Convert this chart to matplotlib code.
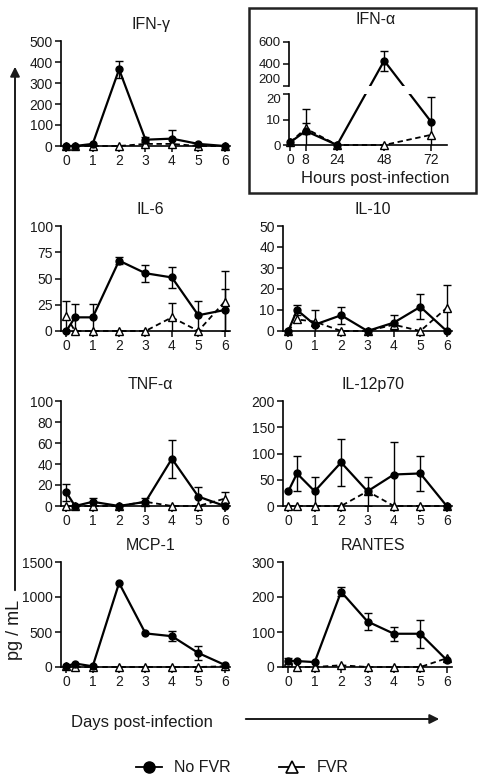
import numpy as np
import matplotlib
matplotlib.use("Agg")
import matplotlib.pyplot as plt
from matplotlib.lines import Line2D
from matplotlib.patches import Rectangle, FancyArrowPatch

plt.rcParams["font.family"] = ["Liberation Sans", "DejaVu Sans"]
plt.rcParams["text.color"] = "#1a1a1a"
plt.rcParams["xtick.color"] = "#1a1a1a"
plt.rcParams["ytick.color"] = "#1a1a1a"

W, H, DPI = 485, 784, 100

# ── data ──────────────────────────────────────────────────────────────────────
days = [0, 0.33, 1, 2, 3, 4, 5, 6]          # 8 h = 0.33 d
day_ticks = [0, 1, 2, 3, 4, 5, 6]

ifng_no      = [0, 0, 10, 365, 30, 35, 10, 0]
ifng_no_err  = [0, 0, 0, 40, 12, 40, 0, 0]
ifng_fvr     = [0, 0, 0, 0, 10, 10, 0, 0]
ifng_fvr_err = [0, 0, 0, 0, 0, 0, 0, 0]

il6_no       = [0, 13, 13, 67, 55, 51, 15, 20]
il6_no_err   = [0, 13, 13, 3.5, 8, 10, 14, 20]
il6_fvr      = [14, 0, 0, 0, 0, 13, 0, 28]
il6_fvr_err  = [15, 0, 0, 0, 0, 14, 0, 29]

il10_no      = [0, 10, 3, 7.5, 0, 4, 11.5, 0]
il10_no_err  = [0, 2.5, 7, 4, 0, 3.5, 6, 0]
il10_fvr     = [0, 5.5, 4.5, 0, 0, 3, 0, 11]
il10_fvr_err = [0, 0, 0, 0, 0, 0, 0, 11]

tnf_no       = [13, 0, 4, 0, 4, 45, 9, 0]
tnf_no_err   = [8, 0, 4, 0, 4, 18, 9, 0]
tnf_fvr      = [0, 0, 0, 0, 4, 0, 0, 7]
tnf_fvr_err  = [0, 0, 0, 0, 0, 0, 0, 6]

il12_no      = [28, 62, 28, 83, 28, 60, 62, 0]
il12_no_err  = [0, 33, 28, 45, 28, 62, 33, 0]
il12_fvr     = [0, 0, 0, 0, 28, 0, 0, 0]
il12_fvr_err = [0, 0, 0, 0, 0, 0, 0, 0]

mcp1_no      = [10, 50, 10, 1200, 480, 440, 200, 30]
mcp1_no_err  = [0, 0, 0, 0, 0, 70, 100, 0]
mcp1_fvr     = [10, 0, 0, 0, 0, 0, 0, 10]
mcp1_fvr_err = [0, 0, 0, 0, 0, 0, 0, 0]

rantes_no      = [18, 17, 14, 215, 130, 95, 95, 20]
rantes_no_err  = [8, 0, 0, 13, 25, 20, 40, 0]
rantes_fvr     = [15, 0, 0, 5, 0, 0, 0, 25]
rantes_fvr_err = [0, 0, 0, 0, 0, 0, 0, 0]

hours = [0, 8, 24, 48, 72]
hour_ticks = [0, 8, 24, 48, 72]
ifna_no      = [1, 5.5, 0, 430, 9]
ifna_no_err  = [0, 8.5, 0, 90, 10]
ifna_fvr     = [1, 6.5, 0, 0, 4]
ifna_fvr_err = [0, 2, 0, 0, 0]

# ── styles ────────────────────────────────────────────────────────────────────
NO_STYLE = dict(color="black", ls="-", lw=1.6, marker="o", ms=5,
                mfc="black", mec="black")
FVR_STYLE = dict(color="black", ls=(0, (3, 2)), lw=1.3, marker="^", ms=5.5,
                 mfc="white", mec="black", mew=1)


def fig_rect(left, top, width, height):
    return [left / W, 1 - (top + height) / H, width / W, height / H]


def style(ax):
    for s in ("top", "right"):
        ax.spines[s].set_visible(False)
    for s in ("left", "bottom"):
        ax.spines[s].set_linewidth(1.2)
    ax.tick_params(direction="out", length=4, width=1.2, labelsize=10, pad=2)


def errbars(ax, x, y, err):
    x, y, err = map(np.asarray, (x, y, err))
    m = err > 0
    if m.any():
        ax.errorbar(x[m], y[m], yerr=err[m], fmt="none", ecolor="black",
                    elinewidth=1, capsize=3, capthick=1, zorder=2)


def panel(ax, title, no, no_err, fvr, fvr_err, ymax, step):
    errbars(ax, days, fvr, fvr_err)
    errbars(ax, days, no, no_err)
    ax.plot(days, fvr, clip_on=False, zorder=3, **FVR_STYLE)
    ax.plot(days, no, clip_on=False, zorder=4, **NO_STYLE)
    ax.set_xlim(-0.2, 6.2)
    ax.set_ylim(0, ymax)
    ax.set_xticks(day_ticks)
    ax.set_yticks(np.arange(0, ymax + 1, step))
    ax.set_title(title, fontsize=11.5, pad=9, x=0.53)
    style(ax)


fig = plt.figure(figsize=(W / DPI, H / DPI), dpi=DPI)

tops = [41, 226, 401, 562]
LX, RX, PW, PH = 61, 283, 169, 105

panels = [
    (LX, tops[0], "IFN-\u03b3", ifng_no, ifng_no_err, ifng_fvr, ifng_fvr_err, 500, 100),
    (LX, tops[1], "IL-6", il6_no, il6_no_err, il6_fvr, il6_fvr_err, 100, 25),
    (RX, tops[1], "IL-10", il10_no, il10_no_err, il10_fvr, il10_fvr_err, 50, 10),
    (LX, tops[2], "TNF-\u03b1", tnf_no, tnf_no_err, tnf_fvr, tnf_fvr_err, 100, 20),
    (RX, tops[2], "IL-12p70", il12_no, il12_no_err, il12_fvr, il12_fvr_err, 200, 50),
    (LX, tops[3], "MCP-1", mcp1_no, mcp1_no_err, mcp1_fvr, mcp1_fvr_err, 1500, 500),
    (RX, tops[3], "RANTES", rantes_no, rantes_no_err, rantes_fvr, rantes_fvr_err, 300, 100),
]
for left, top, title, no, no_err, fvr, fvr_err, ymax, step in panels:
    ax = fig.add_axes(fig_rect(left, top, PW, PH))
    panel(ax, title, no, no_err, fvr, fvr_err, ymax, step)

# ── IFN-α with broken y axis ──────────────────────────────────────────────────
ax_up = fig.add_axes(fig_rect(289, 42, 158, 44))
ax_lo = fig.add_axes(fig_rect(289, 94, 158, 51))
for a in (ax_up, ax_lo):
    a.set_xlim(-0.5, 80)
ax_up.set_ylim(200, 600)
ax_lo.set_ylim(0, 20)
ax_up.set_yticks([200, 400, 600])
ax_lo.set_yticks([0, 10, 20])
ax_lo.set_xticks(hour_ticks)
style(ax_up)
style(ax_lo)
ax_up.tick_params(axis="y", labelsize=9.5)
ax_lo.tick_params(axis="y", labelsize=9.5)
ax_up.spines["bottom"].set_visible(False)
ax_up.tick_params(axis="x", bottom=False, labelbottom=False)
ax_up.set_title("IFN-\u03b1", fontsize=11.5, pad=13, x=0.55)
# keep "200" and "20" from running into each other at the break
ax_up.get_yticklabels()[0].set_va("bottom")
ax_lo.get_yticklabels()[-1].set_va("top")


def to_other(src, dst, x, y):
    pts = src.transData.transform(np.column_stack([x, y]))
    return dst.transData.inverted().transform(pts)[:, 1]


h = np.asarray(hours, float)
v = np.asarray(ifna_no, float)
e = np.asarray(ifna_no_err, float)
hi = v > 20
# line in each axis, expressed in that axis' coordinates, clipped at its edges
y_lo = v.copy()
y_lo[hi] = to_other(ax_up, ax_lo, h[hi], v[hi])
y_up = v.copy()
y_up[~hi] = to_other(ax_lo, ax_up, h[~hi], v[~hi])

errbars(ax_lo, hours, ifna_fvr, ifna_fvr_err)
ax_lo.plot(hours, ifna_fvr, clip_on=False, zorder=3, **FVR_STYLE)

errbars(ax_lo, h[~hi], v[~hi], e[~hi])
errbars(ax_up, h[hi], v[hi], e[hi])
line_kw = {k: NO_STYLE[k] for k in ("color", "ls", "lw")}
ax_lo.plot(h, y_lo, zorder=4, **line_kw)
ax_up.plot(h, y_up, zorder=4, **line_kw)
mk_kw = dict(ls="none", marker="o", ms=5, mfc="black", mec="black")
ax_lo.plot(h[~hi], v[~hi], clip_on=False, zorder=5, **mk_kw)
ax_up.plot(h[hi], v[hi], clip_on=False, zorder=5, **mk_kw)

fig.text(375 / W, 1 - 178 / H, "Hours post-infection", ha="center",
         va="center", fontsize=12)
fig.add_artist(Rectangle((249 / W, 1 - 193 / H), 227 / W, 185 / H,
                         transform=fig.transFigure, fill=False,
                         lw=1.8, ec="#222222"))

# ── shared axis labels / arrows ───────────────────────────────────────────────
fig.add_artist(FancyArrowPatch((15 / W, 1 - 593 / H), (15 / W, 1 - 64 / H),
                               transform=fig.transFigure, arrowstyle="-|>",
                               mutation_scale=14, lw=1.4, color="#1a1a1a"))
fig.text(15 / W, 1 - 630 / H, "pg / mL", rotation=90, ha="center",
         va="center", fontsize=13)
fig.text(142 / W, 1 - 723 / H, "Days post-infection", ha="center",
         va="center", fontsize=12)
fig.add_artist(FancyArrowPatch((243 / W, 1 - 719 / H), (442 / W, 1 - 719 / H),
                               transform=fig.transFigure, arrowstyle="-|>",
                               mutation_scale=14, lw=1.4, color="#1a1a1a"))

handles = [Line2D([], [], color="black", lw=1.3, marker="o", ms=8, mfc="black"),
           Line2D([], [], color="black", lw=1.3, marker="^", ms=8,
                  mfc="white", mew=1.2)]
fig.legend(handles, ["No FVR", "FVR"], loc="center",
           bbox_to_anchor=(0.5, 1 - 768 / H), ncol=2, frameon=False,
           fontsize=11.5, handlelength=1.6, columnspacing=3, handletextpad=0.8)

fig.savefig("out.png", dpi=DPI)
